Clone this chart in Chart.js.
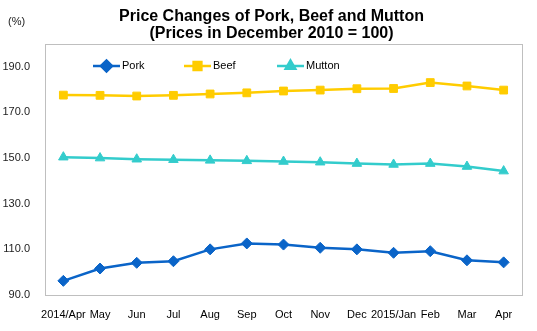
<!DOCTYPE html>
<html>
<head>
<meta charset="utf-8">
<script src="https://cdn.jsdelivr.net/npm/chart.js@4/dist/chart.umd.min.js"></script>
<style>
  html, body { margin: 0; padding: 0; background: #fff; }
  #wrap { width: 537px; height: 331px; position: relative; }
</style>
</head>
<body>
<div id="wrap"><canvas id="c"></canvas></div>
<script>
// Monthly price indices, December 2010 = 100
const months = ['2014/Apr', 'May', 'Jun', 'Jul', 'Aug', 'Sep', 'Oct', 'Nov', 'Dec', '2015/Jan', 'Feb', 'Mar', 'Apr'];
const pork   = [96.2, 101.6, 104.1, 104.8, 110.0, 112.6, 112.1, 110.7, 110.0, 108.5, 109.2, 105.2, 104.3];
const beef   = [177.6, 177.5, 177.2, 177.5, 178.1, 178.6, 179.4, 179.8, 180.4, 180.5, 183.1, 181.6, 179.8];
const mutton = [150.4, 150.0, 149.5, 149.3, 149.0, 148.8, 148.5, 148.2, 147.6, 147.2, 147.6, 146.3, 144.3];
const yTicks = [90, 110, 130, 150, 170, 190];
const titleLines = ['Price Changes of Pork, Beef and Mutton', '(Prices in December 2010 = 100)'];

const series = [
  { label: 'Pork',   data: pork,   color: '#0A64C8', style: 'rectRot',  radius: 5.5 },
  { label: 'Beef',   data: beef,   color: '#FFCC00', style: 'rect',     radius: 5.5 },
  { label: 'Mutton', data: mutton, color: '#33CCCC', style: 'triangle', radius: 5.5 }
];

// Title, unit label and an inline legend inside the plot
const annotations = {
  id: 'annotations',
  afterDraw(chart) {
    const ctx = chart.ctx;
    ctx.save();
    // title
    ctx.fillStyle = '#000';
    ctx.font = 'bold 16px Arial, "Liberation Sans", sans-serif';
    ctx.textAlign = 'center';
    ctx.textBaseline = 'middle';
    titleLines.forEach((t, i) => ctx.fillText(t, 271.5, 16.5 + i * 17.5));

    // unit label
    ctx.fillStyle = '#222';
    ctx.font = '11px Arial, "Liberation Sans", sans-serif';
    ctx.textAlign = 'left';
    ctx.fillText('(%)', 8, 22);

    // legend: short line with the marker, then the name
    const y = 66;
    const starts = [93, 184, 277];
    series.forEach((s, i) => {
      const x0 = starts[i];
      ctx.strokeStyle = s.color;
      ctx.lineWidth = 2.5;
      ctx.beginPath();
      ctx.moveTo(x0, y);
      ctx.lineTo(x0 + 27, y);
      ctx.stroke();
      ctx.fillStyle = s.color;
      Chart.helpers.drawPoint(ctx, { pointStyle: s.style, radius: s.radius, borderWidth: 1 }, x0 + 13.5, y);
      ctx.fillStyle = '#000';
      ctx.font = '11px Arial, "Liberation Sans", sans-serif';
      ctx.textBaseline = 'middle';
      ctx.textAlign = 'left';
      ctx.fillText(s.label, x0 + 29, y);
    });
    ctx.restore();
  }
};

// Box around the plot area
const frame = {
  id: 'frame',
  beforeDatasetsDraw(chart) {
    const a = chart.chartArea, ctx = chart.ctx;
    ctx.save();
    ctx.strokeStyle = '#BFBFBF';
    ctx.lineWidth = 1;
    ctx.strokeRect(Math.round(a.left) + 0.5, Math.round(a.top) + 0.5, Math.round(a.right - a.left), Math.round(a.bottom - a.top));
    ctx.restore();
  }
};

new Chart(document.getElementById('c'), {
  type: 'line',
  data: {
    labels: months,
    datasets: series.map(s => ({
      label: s.label,
      data: s.data,
      borderColor: s.color,
      backgroundColor: s.color,
      pointBackgroundColor: s.color,
      pointBorderColor: s.color,
      pointStyle: s.style,
      pointRadius: s.radius,
      pointBorderWidth: 1,
      borderWidth: 2.5,
      tension: 0,
      fill: false
    }))
  },
  options: {
    responsive: true,
    maintainAspectRatio: false,
    animation: false,
    layout: { padding: { left: 0, right: 15, top: 44, bottom: 0 } },
    plugins: {
      legend: { display: false },
      tooltip: { enabled: false },
      title: { display: false }
    },
    scales: {
      x: {
        offset: true,
        grid: { display: false, drawTicks: false },
        border: { display: false },
        ticks: {
          color: '#000',
          font: { family: 'Arial, "Liberation Sans", sans-serif', size: 11 },
          padding: 13,
          maxRotation: 0,
          autoSkip: false
        },
        afterFit(scale) { scale.height = 36; }
      },
      y: {
        min: 90,
        max: 200,
        grid: { display: false, drawTicks: false },
        border: { display: false },
        afterBuildTicks(scale) { scale.ticks = yTicks.map(v => ({ value: v })); },
        ticks: {
          color: '#222',
          font: { family: 'Arial, "Liberation Sans", sans-serif', size: 11 },
          padding: 15,
          callback: v => Number(v).toFixed(1)
        },
        afterFit(scale) { scale.width = 45; }
      }
    }
  },
  plugins: [frame, annotations]
});
</script>
</body>
</html>
